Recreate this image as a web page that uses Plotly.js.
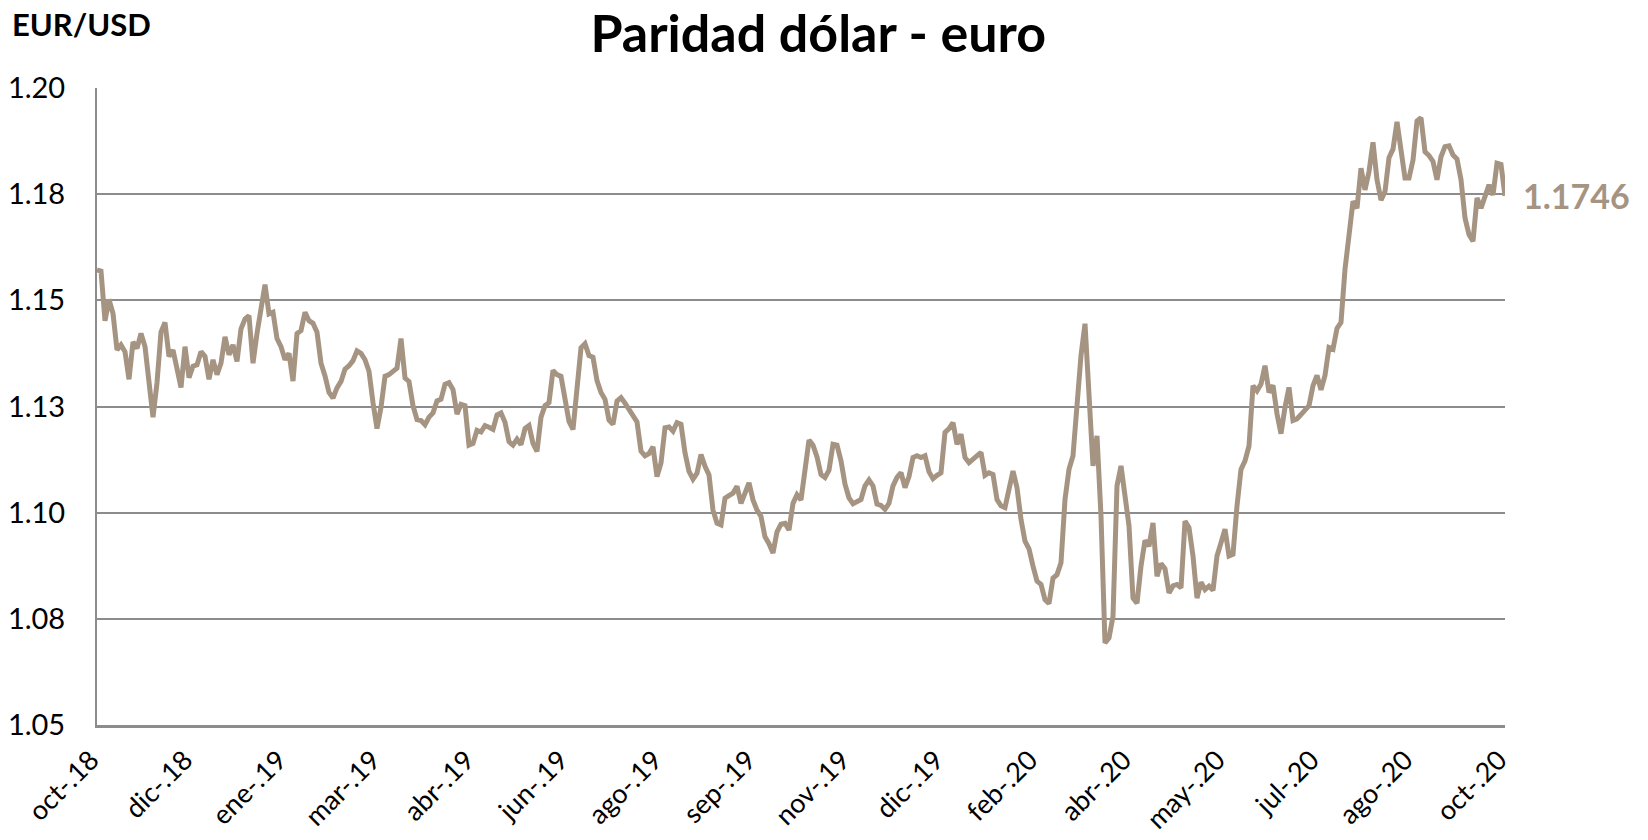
<!DOCTYPE html>
<html>
<head>
<meta charset="utf-8">
<script src="https://cdn.plot.ly/plotly-3.0.1.min.js"></script>
<style>
  html, body { margin: 0; padding: 0; background: #ffffff; }
  #chart { width: 1648px; height: 840px; }
</style>
</head>
<body>
<div id="chart"></div>
<script>
// EUR/USD exchange rate, oct-2018 to oct-2020
const eurusd = [
  1.1572, 1.1569, 1.1452, 1.1502, 1.1469, 1.1383, 1.1395, 1.1379, 1.1314, 1.1402,
  1.1387, 1.1422, 1.1391, 1.1306, 1.1225, 1.1306, 1.1425, 1.1448, 1.1368, 1.1383,
  1.1333, 1.1295, 1.1391, 1.1318, 1.1345, 1.1348, 1.1379, 1.1368, 1.1314, 1.1360,
  1.1325, 1.1352, 1.1414, 1.1372, 1.1395, 1.1356, 1.1433, 1.1456, 1.1464, 1.1352,
  1.1422, 1.1475, 1.1537, 1.1468, 1.1472, 1.1410, 1.1391, 1.1360, 1.1375, 1.1310,
  1.1422, 1.1429, 1.1472, 1.1452, 1.1446, 1.1425, 1.1352, 1.1322, 1.1283, 1.1270,
  1.1294, 1.1309, 1.1338, 1.1346, 1.1358, 1.1381, 1.1375, 1.1360, 1.1333, 1.1259,
  1.1198, 1.1248, 1.1321, 1.1325, 1.1333, 1.1340, 1.1410, 1.1317, 1.1309, 1.1252,
  1.1219, 1.1217, 1.1207, 1.1225, 1.1235, 1.1263, 1.1267, 1.1302, 1.1306, 1.1290,
  1.1232, 1.1255, 1.1252, 1.1159, 1.1163, 1.1194, 1.1190, 1.1205, 1.1201, 1.1196,
  1.1230, 1.1235, 1.1213, 1.1167, 1.1159, 1.1173, 1.1160, 1.1198, 1.1205, 1.1163,
  1.1144, 1.1225, 1.1252, 1.1259, 1.1335, 1.1325, 1.1321, 1.1275, 1.1215,
  1.1196, 1.1295, 1.1388, 1.1398, 1.1370, 1.1366, 1.1311, 1.1283, 1.1267, 1.1218,
  1.1208, 1.1263, 1.1271, 1.1258, 1.1244, 1.1226, 1.1214, 1.1145, 1.1134, 1.1139,
  1.1155, 1.1085, 1.1117, 1.1200, 1.1202, 1.1192, 1.1212, 1.1208, 1.1141, 1.1097,
  1.1079, 1.1093, 1.1137, 1.1109, 1.1089, 1.1006, 1.0975, 1.0971, 1.1034, 1.1040,
  1.1046, 1.1062, 1.1022, 1.1046, 1.1070, 1.1030, 1.1006, 1.0991, 1.0943, 1.0927,
  1.0905, 1.0955, 1.0973, 1.0975, 1.0959, 1.1022, 1.1042, 1.1030,
  1.1110, 1.1171, 1.1159, 1.1131, 1.1090, 1.1083, 1.1100, 1.1161, 1.1159, 1.1122,
  1.1067, 1.1035, 1.1021, 1.1025, 1.1031, 1.1063, 1.1077, 1.1063, 1.1020, 1.1017,
  1.1008, 1.1022, 1.1063, 1.1083, 1.1094, 1.1059, 1.1085, 1.1130, 1.1134, 1.1130,
  1.1134, 1.1096, 1.1080, 1.1088, 1.1094, 1.1189, 1.1198, 1.1212, 1.1161, 1.1185,
  1.1130, 1.1118, 1.1126, 1.1135, 1.1142, 1.1088, 1.1094, 1.1090, 1.1031, 1.1016,
  1.1012, 1.1055, 1.1098, 1.1059, 1.0984, 1.0933, 1.0915, 1.0874,
  1.0839, 1.0831, 1.0795, 1.0786, 1.0846, 1.0854, 1.0882, 1.1031, 1.1102, 1.1134,
  1.1268, 1.1370, 1.1445, 1.1268, 1.1110, 1.1181, 1.0992, 1.0693, 1.0705, 1.0756,
  1.1063, 1.1110, 1.1039, 1.0969, 1.0799, 1.0787, 1.0874, 1.0935, 1.0921, 1.0976,
  1.0850, 1.0880, 1.0868, 1.0811, 1.0828, 1.0831, 1.0823, 1.0980, 1.0965, 1.0898,
  1.0799, 1.0836, 1.0819, 1.0827, 1.0817, 1.0898, 1.0929, 1.0961, 1.0898, 1.0902,
  1.1016, 1.1102, 1.1122, 1.1157, 1.1299, 1.1287, 1.1303, 1.1346, 1.1283,
  1.1300, 1.1233, 1.1186, 1.1248, 1.1295, 1.1217, 1.1221, 1.1231, 1.1241, 1.1252,
  1.1299, 1.1323, 1.1289, 1.1323, 1.1389, 1.1385, 1.1434, 1.1448, 1.1573, 1.1651,
  1.1733, 1.1717, 1.1811, 1.1760, 1.1803, 1.1872, 1.1784, 1.1736, 1.1756, 1.1836,
  1.1856, 1.1920, 1.1852, 1.1788, 1.1788, 1.1830, 1.1922, 1.1930, 1.1850, 1.1841,
  1.1827, 1.1784, 1.1838, 1.1862, 1.1864, 1.1842, 1.1833, 1.1784, 1.1694, 1.1655,
  1.1639, 1.1741, 1.1717, 1.1745, 1.1772, 1.1748, 1.1823, 1.1820, 1.1746
];

const xTickLabels = ['oct-.18','dic-.18','ene-.19','mar-.19','abr-.19','jun-.19','ago-.19','sep-.19',
                     'nov-.19','dic-.19','feb-.20','abr-.20','may-.20','jul-.20','ago-.20','oct-.20'];
const yTickValues = [1.05, 1.075, 1.10, 1.125, 1.15, 1.175, 1.20];
const yTickLabels = ['1.05', '1.08', '1.10', '1.13', '1.15', '1.18', '1.20'];

const titleText = 'Paridad dólar - euro';
const unitLabel = 'EUR/USD';

const lineColor = '#A69482';
const gridColor = '#8C8C8C';
const FONT = 'Lato, "Open Sans", "Noto Sans", sans-serif';

const n = eurusd.length;
const xIdx = eurusd.map((_, i) => i);
const lastIdx = n - 1;
const tickPos = xTickLabels.map((_, i) => i * lastIdx / (xTickLabels.length - 1));

const trace = {
  type: 'scatter',
  mode: 'lines',
  x: xIdx,
  y: eurusd,
  line: { color: lineColor, width: 5, shape: 'linear' },
  hoverinfo: 'y',
  showlegend: false
};

const layout = {
  width: 1648,
  height: 840,
  paper_bgcolor: '#ffffff',
  plot_bgcolor: '#ffffff',
  margin: { l: 97, r: 143, t: 88, b: 115, pad: 0 },
  font: { family: FONT, color: '#000000' },
  title: {
    text: '<b>' + titleText + '</b>',
    font: { family: FONT, size: 52, color: '#000000' },
    x: 0.4965, xref: 'container', xanchor: 'center',
    y: 0.9595, yref: 'container', yanchor: 'middle'
  },
  xaxis: {
    range: [0, lastIdx],
    tickmode: 'array',
    tickvals: tickPos,
    ticktext: xTickLabels,
    tickangle: -45,
    tickfont: { family: FONT, size: 27, color: '#000000' },
    showgrid: false,
    zeroline: false,
    showline: true,
    linecolor: gridColor,
    linewidth: 2.5,
    ticks: '',
    ticklabelstandoff: 6,
    ticklabelshift: -6,
    automargin: false,
    fixedrange: true
  },
  yaxis: {
    range: [1.05, 1.20],
    tickmode: 'array',
    tickvals: yTickValues,
    ticktext: yTickLabels,
    tickfont: { family: FONT, size: 29, color: '#000000' },
    showgrid: true,
    gridcolor: gridColor,
    gridwidth: 2,
    zeroline: false,
    showline: true,
    linecolor: gridColor,
    linewidth: 2,
    ticks: '',
    ticklabelstandoff: 24,
    automargin: false,
    fixedrange: true
  },
  annotations: [
    {
      x: lastIdx, y: eurusd[lastIdx], xref: 'x', yref: 'y',
      text: '<b>' + eurusd[lastIdx].toFixed(4) + '</b>',
      showarrow: false, xanchor: 'left', yanchor: 'middle', xshift: 16,
      font: { family: FONT, size: 34, color: lineColor }
    },
    {
      x: -0.062, y: 1.1005, xref: 'paper', yref: 'paper',
      text: '<b>' + unitLabel + '</b>',
      showarrow: false, xanchor: 'left', yanchor: 'middle',
      font: { family: FONT, size: 31, color: '#000000' }
    }
  ]
};

Plotly.newPlot('chart', [trace], layout, { displayModeBar: false, staticPlot: true });
</script>
</body>
</html>
